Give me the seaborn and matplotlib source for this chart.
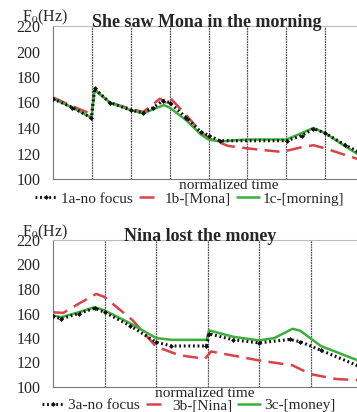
import numpy as np
import pandas as pd
import matplotlib
matplotlib.use("Agg")
import matplotlib.pyplot as plt
import seaborn as sns

sns.set_style("white")
plt.rcParams['font.family'] = ['Liberation Serif', 'DejaVu Serif']
plt.rcParams['mathtext.fontset'] = 'stix'

# ---- Data: sentence 1 (x in normalized time segments) ----
t1a_x = [0, 0.5, 0.99, 1.07, 1.46, 2.0, 2.32, 2.58, 2.83, 3.0, 3.43, 3.8, 4.02, 4.29, 6.01, 6.4, 6.70, 7.0, 7.5, 7.81, 8.0]
t1a_y = [163, 156, 148, 171, 160, 154, 152, 156, 161.5, 160, 148, 137, 134, 130, 130, 134, 139.5, 136, 127, 122, 121]
t1b_x = [0, 0.5, 0.99, 1.07, 1.46, 2.0, 2.32, 2.75, 2.9, 3.0, 3.43, 3.8, 4.0, 4.5, 5.0, 5.8, 6.0, 6.4, 6.7, 7.0, 7.5, 7.81, 8.0]
t1b_y = [164, 157, 151, 170, 160, 155, 152.5, 163, 160, 164, 150, 137, 132, 126, 124, 121.5, 122, 125, 126.5, 124, 119, 116, 115]
t1c_x = [0, 0.5, 0.99, 1.07, 1.46, 2.0, 2.32, 2.85, 3.0, 3.43, 3.8, 4.0, 4.29, 5.0, 6.0, 6.4, 6.7, 7.0, 7.5, 7.81, 8.0]
t1c_y = [163, 156, 148, 170, 160, 154, 151.5, 158, 156, 146, 135, 131, 129.5, 131, 131, 136, 140, 136, 126, 120, 118]

# ---- Data: sentence 3 ----
t3a_x = [0, 0.16, 0.5, 0.81, 1.0, 1.5, 2.0, 2.3, 2.98, 3.03, 3.5, 4.0, 4.6, 4.8, 5.2, 5.9, 6.0]
t3a_y = [157.6, 155.7, 160, 164.3, 161, 150, 136.6, 133.5, 133.5, 143.4, 138.5, 136, 138.8, 137, 130, 117.7, 117]
t3b_x = [0, 0.2, 0.5, 0.84, 1.0, 1.55, 2.0, 2.45, 2.95, 3.07, 4.0, 4.65, 5.0, 5.5, 6.0]
t3b_y = [161, 160.5, 168, 176, 173.5, 154.3, 133, 126, 123, 129, 121.7, 117.7, 110.5, 106.5, 105.5]
t3c_x = [0, 0.16, 0.5, 0.81, 1.0, 1.5, 2.0, 2.3, 2.98, 3.03, 3.5, 4.0, 4.3, 4.65, 4.8, 5.2, 5.9, 6.0]
t3c_y = [158.4, 157, 161, 165.2, 162.5, 152, 140, 138.5, 138.5, 146.2, 141, 138, 140, 147.5, 146, 133.5, 122, 121.5]

titles = ["She saw Mona in the morning", "Nina lost the money"]
labels1 = ["1a-no focus", "1b-[Mona]", "1c-[morning]"]
labels3 = ["3a-no focus", "3b-[Nina]", "3c-[money]"]
y_ticks = [100, 120, 140, 160, 180, 200, 220]

def make_df(xs, ys, labels):
    frames = []
    for x, y, lab in zip(xs, ys, labels):
        frames.append(pd.DataFrame({"t": x, "f0": y, "cond": lab}))
    return pd.concat(frames, ignore_index=True)

df1 = make_df([t1a_x, t1b_x, t1c_x], [t1a_y, t1b_y, t1c_y], labels1)
df3 = make_df([t3a_x, t3b_x, t3c_x], [t3a_y, t3b_y, t3c_y], labels3)

W, H = 357, 412
fig = plt.figure(figsize=(W / 100, H / 100), dpi=100)
ax1 = fig.add_axes([53 / W, 1 - 179 / H, 311 / W, 153 / H])
ax2 = fig.add_axes([53 / W, 1 - 387 / H, 309 / W, 147 / H])

colors = ["#111111", "#d9414b", "#3cae3c"]

def draw(ax, df, labels, nseg, title, title_x, xlab_x, leg_y):
    for i, lab in enumerate(labels):
        sub = df[df["cond"] == lab]
        if i == 0:
            sns.lineplot(data=sub, x="t", y="f0", ax=ax, color=colors[0], lw=2.2,
                         linestyle=(0, (0.6, 0.9)), label=lab, zorder=5,
                         marker="D", markersize=2.5, markeredgewidth=0, sort=False)
        elif i == 1:
            sns.lineplot(data=sub, x="t", y="f0", ax=ax, color=colors[1], lw=1.8,
                         linestyle=(0, (6, 3)), label=lab, zorder=3, sort=False)
        else:
            sns.lineplot(data=sub, x="t", y="f0", ax=ax, color=colors[2], lw=1.8,
                         linestyle="-", label=lab, zorder=4, sort=False)
    ax.set_xlim(0, nseg)
    ax.set_ylim(100, 220)
    ax.set_yticks(y_ticks)
    ax.set_xticks(range(nseg + 1))
    ax.set_xticklabels([])
    for k in range(1, nseg):
        ax.axvline(k, color="#555555", lw=0.9, linestyle=(0, (1.5, 0.6)), zorder=1)
    ax.spines["right"].set_visible(False)
    ax.spines["top"].set_color("#bbbbbb")
    ax.spines["top"].set_linewidth(0.8)
    for s in ["left", "bottom"]:
        ax.spines[s].set_color("#777777")
        ax.spines[s].set_linewidth(0.8)
    ax.tick_params(axis="y", direction="in", length=3, labelsize=11.5, pad=9, color="#777777")
    ax.tick_params(axis="x", direction="in", length=3, color="#777777")
    ax.set_xlabel("normalized time", fontsize=11)
    ax.xaxis.set_label_coords(xlab_x, -0.045)
    ax.xaxis.label.set_va("center")
    ax.set_ylabel("")
    ax.set_title(title, fontsize=13, fontweight="bold", pad=-1, x=title_x)
    ax.text(-0.1, 1.055, r"F$_0$(Hz)", transform=ax.transAxes, fontsize=11.5,
            ha="left", va="center")
    ax.legend(loc="center", bbox_to_anchor=(0.44, leg_y), ncol=3, frameon=False,
              fontsize=11, handlelength=1.4, handletextpad=0.3, columnspacing=0.4,
              borderaxespad=0, borderpad=0)

draw(ax1, df1, labels1, 8, titles[0], 0.494, 0.566, -0.13)
draw(ax2, df3, labels3, 6, titles[1], 0.476, 0.49, -0.125)

fig.savefig("out.png", dpi=100)
